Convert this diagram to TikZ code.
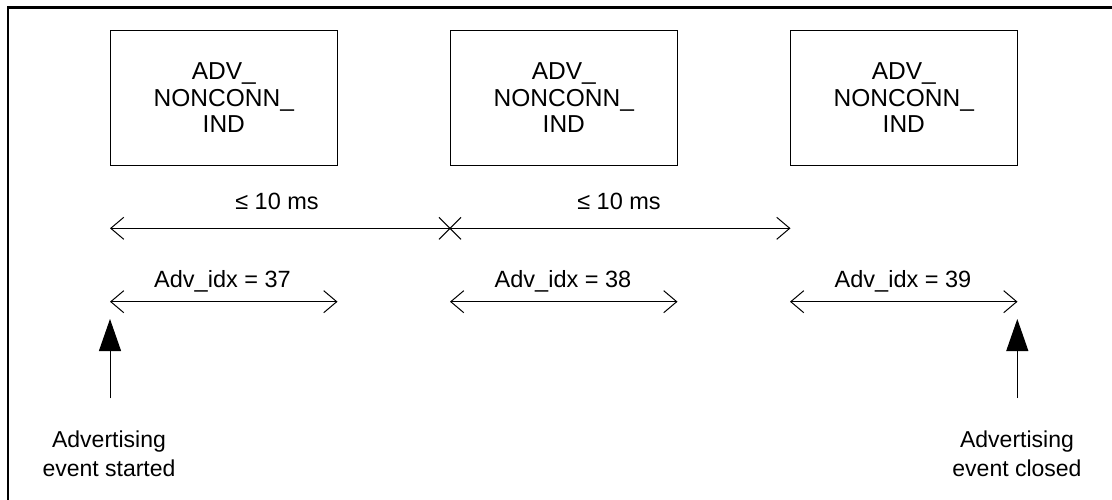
\documentclass[tikz,border=0pt]{standalone}
\usepackage{fontspec}
\setmainfont{Liberation Sans}
\usetikzlibrary{arrows.meta,calc}
\tikzset{
  advbox/.style={draw, line width=1pt, minimum width=227pt, minimum height=135pt, inner sep=0pt, align=center, font=\fontsize{24.5}{26.5}\selectfont},
  lbl/.style={inner sep=0pt, anchor=base, font=\fontsize{23.5}{26}\selectfont},
  evt/.style={inner sep=0pt, anchor=north, align=center, font=\fontsize{23}{28.5}\selectfont},
  dim/.style={line width=1pt, {Straight Barb[length=13pt,width=22pt,line width=1pt]}-{Straight Barb[length=13pt,width=22pt,line width=1pt]}},
  lend/.style={line width=1pt, {Straight Barb[length=13pt,width=22pt,line width=1pt]}-},
  rend/.style={line width=1pt, -{Straight Barb[length=13pt,width=22pt,line width=1pt]}},
  up/.style={line width=1pt, -{Triangle[length=32pt,width=22pt]}}
}
\begin{document}
\begin{tikzpicture}[x=1pt,y=-1pt]
\useasboundingbox (0,0) rectangle (1112,500);
\draw[line width=2.6pt] (8,500) -- (8,7.3) -- (1112,7.3);
% boxes
\node[advbox] (b1) at (223.8,98) {ADV\_\\NONCONN\_\\IND};
\node[advbox] (b2) at (563.8,98) {ADV\_\\NONCONN\_\\IND};
\node[advbox] (b3) at (903.8,98) {ADV\_\\NONCONN\_\\IND};
% long dimension line
\coordinate (L0) at (110,228.3);
\coordinate (L1) at (450,228.3);
\coordinate (L2) at (790.5,228.3);
\draw[lend] (L0) -- (L1);
\draw[rend] (L1) -- (L2);
\draw[line width=1pt] ($(L1)+(-11,-11)$) -- ($(L1)+(11,11)$);
\draw[line width=1pt] ($(L1)+(-11,11)$) -- ($(L1)+(11,-11)$);
\node[lbl] (t1) at (277,210) {≤ 10 ms};
\node[lbl] (t2) at (619,210) {≤ 10 ms};
% short dimension lines
\coordinate (a0) at (110,301.7);
\coordinate (a1) at (337.5,301.7);
\coordinate (c0) at (450,301.7);
\coordinate (c1) at (677.5,301.7);
\coordinate (d0) at (790,301.7);
\coordinate (d1) at (1017.5,301.7);
\draw[dim] (a0) -- (a1);
\draw[dim] (c0) -- (c1);
\draw[dim] (d0) -- (d1);
\node[lbl] (i1) at (222.5,287.3) {Adv\_idx = 37};
\node[lbl] (i2) at (563,287.3) {Adv\_idx = 38};
\node[lbl] (i3) at (903,287.3) {Adv\_idx = 39};
% event arrows
\coordinate (s0) at (110,398.3);
\coordinate (s1) at (110,319);
\coordinate (e0) at (1017.3,398);
\coordinate (e1) at (1017.3,319);
\draw[up] (s0) -- (s1);
\draw[up] (e0) -- (e1);
\node[evt] (ev1) at (109,431) {Advertising\\event started};
\node[evt] (ev2) at (1017,431) {Advertising\\event closed};
\end{tikzpicture}
\end{document}
